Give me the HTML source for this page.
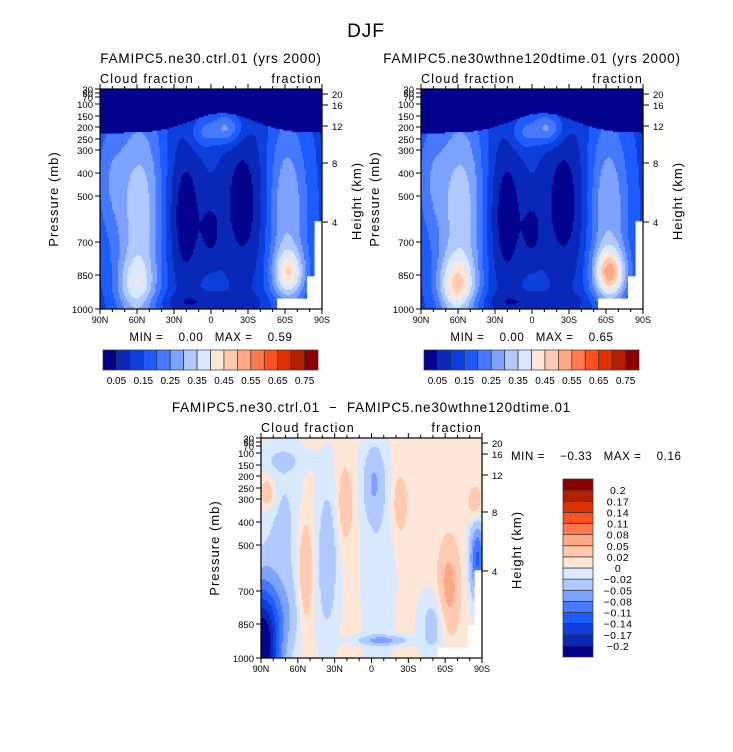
<!DOCTYPE html>
<html><head><meta charset="utf-8">
<style>
body{margin:0;background:#fff;}
svg{display:block;font-family:"Liberation Sans",sans-serif;}
text{fill:#000;white-space:pre;}
</style></head>
<body>
<svg id="chart" width="733" height="752" viewBox="0 0 733 752" xmlns="http://www.w3.org/2000/svg">
<rect width="733" height="752" fill="#fff"/>
<text x="366" y="37" font-size="19" text-anchor="middle" letter-spacing="1" fill="#222">DJF</text>
<g id="layer"></g>
</svg>
<script>
// ---- data ----
const latTickLabels = ["90N","60N","30N","0","30S","60S","90S"];
const pressureLevels = [30,50,70,100,150,200,250,300,400,500,700,850,1000];
const pressureLabels = ["30","50","70","100","150","200","250","300","400","500","700","850","1000"];
const heightLabels = ["20","16","12","8","4"];
const absLevels = [0.05,0.1,0.15,0.2,0.25,0.3,0.35,0.4,0.45,0.5,0.55,0.6,0.65,0.7,0.75];
const absLevelLabels = ["0.05","0.15","0.25","0.35","0.45","0.55","0.65","0.75"];
const diffLevels = [-0.2,-0.17,-0.14,-0.11,-0.08,-0.05,-0.02,0,0.02,0.05,0.08,0.11,0.14,0.17,0.2];
const diffLevelLabels = ["-0.2","-0.17","-0.14","-0.11","-0.08","-0.05","-0.02","0","0.02","0.05","0.08","0.11","0.14","0.17","0.2"];
const palette = ["#02028c","#0a28b8","#0d3fdc","#1e5cff","#4679ff","#7ea2ff","#b0c9ff","#d9e9ff","#ffe7d8","#ffcab2","#ffa886","#ff7a4e","#ff5220","#e03200","#b32000","#8a0000"];
// field blobs: x (0=90N,1=90S), y (0=top,1=1000mb), sx, sy, amplitude
const ctrlBase = 0.13;
const ctrlBlobX  = [0.18,0.16,0.04,0.84,0.85,0.38,0.65,0.5,0.57,0.46,0.5];
const ctrlBlobY  = [0.55,0.9,0.4,0.55,0.84,0.58,0.52,0.65,0.18,0.2,0.97];
const ctrlBlobSx = [0.08,0.06,0.05,0.07,0.05,0.06,0.08,0.03,0.05,0.04,0.2];
const ctrlBlobSy = [0.35,0.1,0.2,0.3,0.08,0.25,0.26,0.1,0.05,0.05,0.03];
const ctrlBlobAmp= [0.2,0.15,0.08,0.17,0.22,-0.12,-0.11,-0.07,0.15,0.08,-0.06];
const testBlobAmp= [0.2,0.22,0.08,0.17,0.3,-0.12,-0.11,-0.07,0.15,0.08,-0.06];
const diffBase = 0.005;
const diffBlobX  = [0.3,0.51,0.53,0.1,0.0,0.2,0.38,0.85,0.63,0.03,0.98,0.55,0.78,0.1,0.97,0.12];
const diffBlobY  = [0.55,0.2,0.6,0.4,0.95,0.62,0.3,0.68,0.3,0.25,0.55,0.92,0.85,0.1,0.3,0.8];
const diffBlobSx = [0.035,0.035,0.05,0.06,0.06,0.025,0.025,0.035,0.025,0.025,0.025,0.08,0.04,0.08,0.025,0.06];
const diffBlobSy = [0.25,0.12,0.35,0.25,0.2,0.18,0.12,0.15,0.1,0.05,0.12,0.015,0.1,0.04,0.06,0.12];
const diffBlobAmp= [-0.045,-0.05,-0.02,-0.03,-0.25,0.05,0.04,0.06,0.035,0.045,-0.12,-0.06,-0.04,-0.02,0.04,-0.03];

// ---- helpers ----
const NS="http://www.w3.org/2000/svg";
const layer=document.getElementById('layer');
function mk(tag,attrs,parent){const e=document.createElementNS(NS,tag);for(const k in attrs)e.setAttribute(k,attrs[k]);(parent||layer).appendChild(e);return e;}
function txt(x,y,s,size,anchor,parent,ls){const t=mk('text',{x:x,y:y,'font-size':size,'text-anchor':anchor||'start'},parent);if(ls)t.setAttribute('letter-spacing',ls);t.textContent=s.replace(/-/g,'\u2212');return t;}
const pFrac=[0,4,8,15,27,38,50,61,84,107,153,186,220].map(v=>v/220);
function pToY(p){for(let i=0;i<pressureLevels.length-1;i++){if(p<=pressureLevels[i+1]){const t=(p-pressureLevels[i])/(pressureLevels[i+1]-pressureLevels[i]);return pFrac[i]+t*(pFrac[i+1]-pFrac[i]);}}return 1;}
const heightFrac=[5,16,37,74,133].map(v=>v/220);
function field(x,y,base,bx,by,sx,sy,amp){let v=base;for(let i=0;i<bx.length;i++){const dx=(x-bx[i])/sx[i],dy=(y-by[i])/sy[i];v+=amp[i]*Math.exp(-0.5*(dx*dx+dy*dy));}return v;}
function levelIdx(v,lev){let i=0;while(i<lev.length&&v>=lev[i])i++;return i;}
function missing(x,y){return (x>0.965&&y>0.6)||(x>0.8&&y>0.955&&x<0.96)||(x>0.93&&y>0.85);}

function panel(name,ox,oy,W,H,title,valFn,lev){
  const g=mk('g',{});  
  const N=148,M=148,cw=W/N,ch=H/M;
  for(let j=0;j<M;j++){
    const y=(j+0.5)/M; let runStart=0,runCol=null;
    for(let i=0;i<=N;i++){
      let col=null;
      if(i<N){const x=(i+0.5)/N; col=missing(x,y)?'#ffffff':palette[levelIdx(valFn(x,y),lev)];}
      if(col!==runCol){ if(runCol!==null){mk('rect',{x:(ox+runStart*cw).toFixed(2),y:(oy+j*ch).toFixed(2),width:((i-runStart)*cw+0.4).toFixed(2),height:(ch+0.4).toFixed(2),fill:runCol},g);} runStart=i;runCol=col;}
    }
  }
  mk('rect',{x:ox,y:oy,width:W,height:H,fill:'none',stroke:'#000','stroke-width':1.2},g);
  for(let k=0;k<=18;k++){const x=ox+W*k/18;const L=(k%3===0)?5:3;
    mk('line',{x1:x,y1:oy+H,x2:x,y2:oy+H+L,stroke:'#000'},g);mk('line',{x1:x,y1:oy,x2:x,y2:oy-L,stroke:'#000'},g);}
  latTickLabels.forEach((s,k)=>{const t=txt(ox+W*k/6,oy+H+14,s,9,'middle',g);});
  pressureLevels.forEach((p,k)=>{const y=oy+H*pToY(p);mk('line',{x1:ox,y1:y,x2:ox-5,y2:y,stroke:'#000'},g);
    const t=txt(ox-7,y+4,pressureLabels[k],9.5,'end',g);});
  heightLabels.forEach((s,k)=>{const y=oy+H*heightFrac[k];mk('line',{x1:ox+W,y1:y,x2:ox+W+6,y2:y,stroke:'#000'},g);
    const t=txt(ox+W+10,y+4,s,9.5,'start',g);});
  let t=txt(ox-42,oy+H/2,'Pressure (mb)',13,'middle',g,'1');t.setAttribute('transform',`rotate(-90 ${ox-42} ${oy+H/2})`);
  t=txt(ox+W+39,oy+H/2+2,'Height (km)',13,'middle',g,'1');t.setAttribute('transform',`rotate(-90 ${ox+W+39} ${oy+H/2+2})`);
  t=txt(ox,oy-6,'Cloud fraction',12.5,'start',g,'1.2');
  t=txt(ox+W,oy-6,'fraction',12.5,'end',g,'1.2');
  t=txt(ox+W/2,oy-26,title,13.5,'middle',g,'0.8');
  return g;
}
function trop(x){return 0.2-0.09*Math.exp(-Math.pow((x-0.55)/0.2,2));}
const ctrlFn=(x,y)=>y<trop(x)?0.02:field(x,y,ctrlBase,ctrlBlobX,ctrlBlobY,ctrlBlobSx,ctrlBlobSy,ctrlBlobAmp);
const testFn=(x,y)=>y<trop(x)?0.02:field(x,y,ctrlBase,ctrlBlobX,ctrlBlobY,ctrlBlobSx,ctrlBlobSy,testBlobAmp);
const diffFn=(x,y)=>field(x,y,diffBase,diffBlobX,diffBlobY,diffBlobSx,diffBlobSy,diffBlobAmp);

panel('ctrl-panel',100,89,222,220,'FAMIPC5.ne30.ctrl.01 (yrs 2000)',ctrlFn,absLevels);
panel('test-panel',421,89,222,220,'FAMIPC5.ne30wthne120dtime.01 (yrs 2000)',testFn,absLevels);
panel('diff-panel',261,438,221,220,'FAMIPC5.ne30.ctrl.01  -  FAMIPC5.ne30wthne120dtime.01',diffFn,diffLevels);

function minmax(x,y,mn,mx,anchor){const t=txt(x,y,'MIN =    '+mn+'   MAX =    '+mx,11.5,anchor,null,'0.6');}
minmax(211,341,'0.00','0.59','middle');
minmax(532,341,'0.00','0.65','middle');
minmax(511,460,'-0.33','0.16','start');

function hbar(name,ox,oy,W,H){const g=mk('g',{});
  const bw=W/palette.length;
  palette.forEach((c,i)=>{const r=mk('rect',{x:ox+i*bw,y:oy,width:bw,height:H,fill:c,stroke:'#333','stroke-width':0.7},g);});
  absLevelLabels.forEach((s,k)=>{const t=txt(ox+bw*(2*k+1),oy+H+14,s,10,'middle',g);});}
hbar('ctrl-colorbar',103,350,215,20);
hbar('test-colorbar',424,350,215,20);
(function(){const g=mk('g',{});
  const ox=563,oy=479,W=30,H=178,bh=H/palette.length;
  palette.forEach((c,i)=>{const r=mk('rect',{x:ox,y:oy+H-(i+1)*bh,width:W,height:bh,fill:c,stroke:'#333','stroke-width':0.7},g);});
  diffLevelLabels.forEach((s,k)=>{const y=oy+H-(k+1)*bh;const t=txt(ox+W+25,y+4,s,10.5,'middle',g,'0.5');});
})();
</script>
</body></html>
